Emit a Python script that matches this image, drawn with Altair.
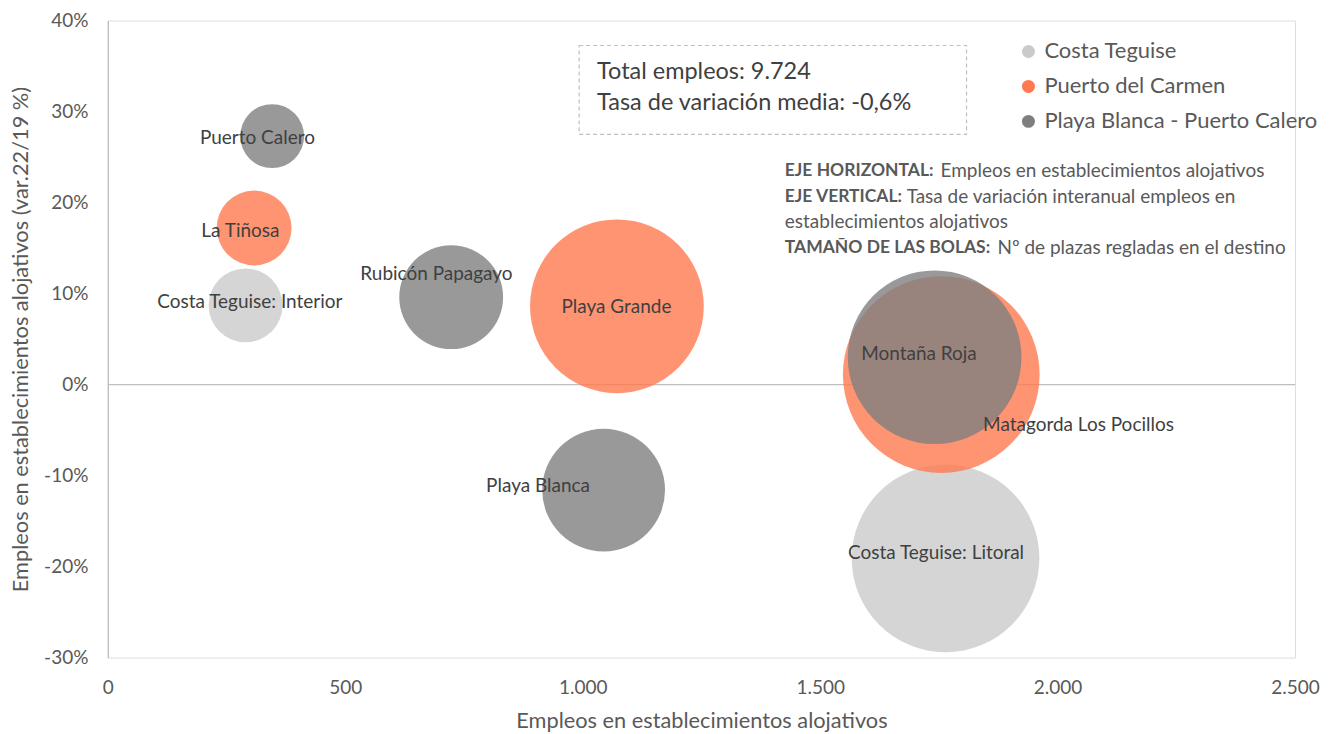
import altair as alt
import pandas as pd

# ---------------- data ----------------
destinos = ["Costa Teguise: Interior", "Costa Teguise: Litoral", "La Tiñosa",
            "Playa Grande", "Matagorda Los Pocillos", "Puerto Calero",
            "Rubicón Papagayo", "Playa Blanca", "Montaña Roja"]
zonas = ["Costa Teguise", "Costa Teguise", "Puerto del Carmen",
         "Puerto del Carmen", "Puerto del Carmen", "Playa Blanca - Puerto Calero",
         "Playa Blanca - Puerto Calero", "Playa Blanca - Puerto Calero",
         "Playa Blanca - Puerto Calero"]
empleos = [290, 1764, 308, 1072, 1755, 346, 723, 1044, 1741]
variacion = [0.087, -0.191, 0.172, 0.086, 0.011, 0.273, 0.096, -0.116, 0.030]
plazas = [2117, 13660, 2174, 11700, 15000, 1583, 4180, 5847, 11700]
# label anchor points (data units) as placed in the original chart
label_x = [299, 1744, 279, 1071, 2044, 315, 692, 906, 1708]
label_y = [0.091, -0.185, 0.169, 0.085, -0.0445, 0.271, 0.122, -0.112, 0.034]

zona_orden = ["Costa Teguise", "Puerto del Carmen", "Playa Blanca - Puerto Calero"]
zona_colores = ["#CBCACB", "#FF7950", "#7F7F7F"]

x_ticks = [0, 500, 1000, 1500, 2000, 2500]
y_ticks = [-0.3, -0.2, -0.1, 0.0, 0.1, 0.2, 0.3, 0.4]

caja_lineas = ["Total empleos: 9.724", "Tasa de variación media: -0,6%"]
nota_negrita = ["EJE HORIZONTAL:", "EJE VERTICAL:", "", "TAMAÑO DE LAS BOLAS:"]
nota_normal = ["Empleos en establecimientos alojativos",
               "Tasa de variación interanual empleos en",
               "establecimientos alojativos",
               "Nº de plazas regladas en el destino"]

x_title = "Empleos en establecimientos alojativos"
y_title = "Empleos en establecimientos alojativos (var.22/19 %)"

# ---------------- chart ----------------
FONT = "Lato"
W, H = 1189, 638

df = pd.DataFrame({
    "destino": destinos, "zona": zonas, "empleos": empleos,
    "variacion": variacion, "plazas": plazas,
    "lx": label_x, "ly": label_y,
})
df["orden"] = df["zona"].map({z: i for i, z in enumerate(zona_orden)})
df = df.sort_values("orden", kind="stable")

xscale = alt.Scale(domain=[0, 2500], nice=False)
yscale = alt.Scale(domain=[-0.3, 0.4], nice=False)

x_axis = alt.Axis(values=x_ticks,
                  labelExpr="replace(format(datum.value, ',d'), ',', '.')",
                  domain=False, ticks=False, grid=False, labelFlush=False,
                  labelFontSize=19, labelColor="#595959", labelFont=FONT,
                  labelPadding=21, title=x_title, titleFontSize=21.8,
                  titleFont=FONT, titleFontWeight="normal", titleColor="#595959",
                  titlePadding=13)
y_axis = alt.Axis(values=y_ticks,
                  labelExpr="replace(format(datum.value, '.0%'), '\u2212', '-')",
                  domain=True, domainColor="#BFBFBF", domainWidth=1.3,
                  ticks=False, grid=False,
                  labelFontSize=19, labelColor="#595959", labelFont=FONT,
                  labelPadding=20, labelFlush=False, title=y_title,
                  titleFontSize=21.8, titleFont=FONT, titleFontWeight="normal",
                  titleColor="#595959", titlePadding=11)

zero = alt.Chart(pd.DataFrame({"y": [0.0]})).mark_rule(
    color="#BFBFBF", strokeWidth=1.3).encode(
    y=alt.Y("y:Q", scale=yscale, axis=y_axis))

bubbles = alt.Chart(df).mark_circle(opacity=0.8, strokeWidth=0).encode(
    x=alt.X("empleos:Q", scale=xscale, axis=x_axis),
    y=alt.Y("variacion:Q", scale=yscale, axis=y_axis),
    size=alt.Size("plazas:Q", scale=alt.Scale(domain=[0, 15000],
                                              range=[0, 38809]), legend=None),
    color=alt.Color("zona:N", scale=alt.Scale(domain=zona_orden, range=zona_colores),
                    legend=alt.Legend(orient="none", legendX=911, legendY=20,
                                      title=None, symbolType="circle",
                                      symbolSize=169, symbolOpacity=1,
                                      symbolStrokeWidth=0, labelLimit=500,
                                      labelFontSize=22, labelFont=FONT,
                                      labelColor="#595959", labelOffset=5,
                                      rowPadding=13, padding=0)),
    order=alt.Order("orden:Q"),
)

labels = alt.Chart(df).mark_text(fontSize=19, font=FONT, color="#404040",
                                 align="center", baseline="middle").encode(
    x=alt.X("lx:Q", scale=xscale), y=alt.Y("ly:Q", scale=yscale),
    text="destino:N")

one = pd.DataFrame({"a": [0]})
box = alt.Chart(one).mark_rect(fill="transparent", stroke="#BFBFBF",
                               strokeWidth=1.2, strokeDash=[4, 3]).encode(
    x=alt.value(472), x2=alt.value(860), y=alt.value(25), y2=alt.value(114))

layers = [zero, bubbles, labels, box]

box_y = [52, 83]
for t, yy in zip(caja_lineas, box_y):
    layers.append(alt.Chart(pd.DataFrame({"t": [t]})).mark_text(
        fontSize=23.5, font=FONT, color="#404040", align="left",
        baseline="middle").encode(x=alt.value(490), y=alt.value(yy), text="t:N"))

note_y = [151, 177, 202, 228]
normal_x = [834, 800, 678, 891]
for b, n, yy, nx in zip(nota_negrita, nota_normal, note_y, normal_x):
    if b:
        layers.append(alt.Chart(pd.DataFrame({"t": [b]})).mark_text(
            fontSize=17.5, font=FONT, fontWeight="bold", color="#595959",
            align="left", baseline="middle").encode(
            x=alt.value(678), y=alt.value(yy), text="t:N"))
    layers.append(alt.Chart(pd.DataFrame({"t": [n]})).mark_text(
        fontSize=19, font=FONT, color="#595959", align="left",
        baseline="middle").encode(x=alt.value(nx), y=alt.value(yy), text="t:N"))

chart = alt.layer(*layers).properties(
    width=W, height=H,
    padding={"left": 100, "top": 12, "right": 30, "bottom": 74},
    autosize=alt.AutoSizeParams(type="none"),
).configure_view(stroke=None).configure(font=FONT)

chart.save("out.html", embed_options={"renderer": "svg", "actions": False})
